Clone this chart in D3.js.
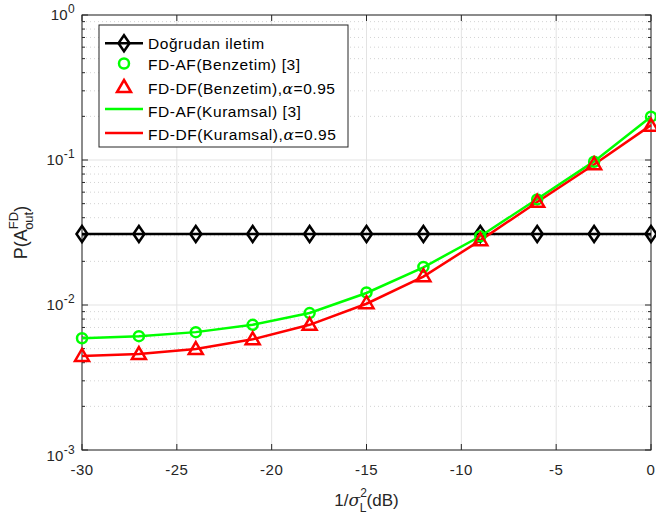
<!DOCTYPE html>
<html>
<head>
<meta charset="utf-8">
<script src="https://cdn.jsdelivr.net/npm/d3@7"></script>
<style>
  body { margin: 0; background: #fff; }
  text { font-family: Arial, "Liberation Sans", Helvetica, sans-serif; }
</style>
</head>
<body>
<svg id="chart" width="656" height="521"></svg>
<script>
// x values (dB)
var xVals = [-30, -27, -24, -21, -18, -15, -12, -9, -6, -3, 0];
// series
var direct = [0.0309, 0.0309, 0.0309, 0.0309, 0.0309, 0.0309, 0.0309, 0.0309, 0.0309, 0.0309, 0.0309];
var afSim = [0.0059, 0.0061, 0.0065, 0.0073, 0.0088, 0.0122, 0.0183, 0.0298, 0.0535, 0.0972, 0.199];
var dfSim = [0.00445, 0.00459, 0.00497, 0.0058, 0.0073, 0.0103, 0.0158, 0.0280, 0.0515, 0.0935, 0.172];
var afTheo = [0.0059, 0.0061, 0.0065, 0.0073, 0.0088, 0.0121, 0.0182, 0.0298, 0.0538, 0.0978, 0.199];
var dfTheo = [0.00445, 0.00459, 0.00497, 0.0058, 0.0073, 0.0102, 0.0157, 0.0279, 0.0513, 0.0932, 0.174];
var xTicks = [-30, -25, -20, -15, -10, -5, 0];
var yTicks = [1e-3, 1e-2, 1e-1, 1];
var yExps = ["-3", "-2", "-1", "0"];

var pLeft = 82, pRight = 651, pTop = 15, pBottom = 450;
var svg = d3.select("#chart");

var x = d3.scaleLinear().domain([-30, 0]).range([pLeft, pRight]);
var y = d3.scaleLog().domain([1e-3, 1]).range([pBottom, pTop]);

// minor grid values
var minors = [];
[1e-3, 1e-2, 1e-1].forEach(function(d) {
    for (var k = 2; k <= 9; k++) minors.push(d * k);
});

// minor horizontal dotted grid
svg.selectAll(".minor-grid")
    .data(minors)
    .enter().append("line")
    .attr("x1", pLeft).attr("x2", pRight)
    .attr("y1", function(d) { return y(d); })
    .attr("y2", function(d) { return y(d); })
    .style("stroke", "#c8c8c8")
    .style("stroke-width", 0.8)
    .style("stroke-dasharray", "1,3");

// major grid
svg.selectAll(".vgrid")
    .data(xTicks)
    .enter().append("line")
    .attr("x1", function(d) { return x(d); }).attr("x2", function(d) { return x(d); })
    .attr("y1", pTop).attr("y2", pBottom)
    .style("stroke", "#e3e3e3")
    .style("stroke-width", 1);

svg.selectAll(".hgrid")
    .data(yTicks)
    .enter().append("line")
    .attr("x1", pLeft).attr("x2", pRight)
    .attr("y1", function(d) { return y(d); })
    .attr("y2", function(d) { return y(d); })
    .style("stroke", "#e3e3e3")
    .style("stroke-width", 1);

// tick marks (inside, all sides)
var tickLen = 6, minorLen = 3;
xTicks.forEach(function(d) {
    svg.append("line").attr("x1", x(d)).attr("x2", x(d)).attr("y1", pBottom).attr("y2", pBottom - tickLen).style("stroke", "#262626");
    svg.append("line").attr("x1", x(d)).attr("x2", x(d)).attr("y1", pTop).attr("y2", pTop + tickLen).style("stroke", "#262626");
});
yTicks.forEach(function(d) {
    svg.append("line").attr("x1", pLeft).attr("x2", pLeft + tickLen).attr("y1", y(d)).attr("y2", y(d)).style("stroke", "#262626");
    svg.append("line").attr("x1", pRight).attr("x2", pRight - tickLen).attr("y1", y(d)).attr("y2", y(d)).style("stroke", "#262626");
});
minors.forEach(function(d) {
    svg.append("line").attr("x1", pLeft).attr("x2", pLeft + minorLen).attr("y1", y(d)).attr("y2", y(d)).style("stroke", "#262626");
    svg.append("line").attr("x1", pRight).attr("x2", pRight - minorLen).attr("y1", y(d)).attr("y2", y(d)).style("stroke", "#262626");
});

// axes box
svg.append("rect")
    .attr("x", pLeft).attr("y", pTop)
    .attr("width", pRight - pLeft).attr("height", pBottom - pTop)
    .style("fill", "none")
    .style("stroke", "#262626")
    .style("stroke-width", 1);

// x tick labels
svg.selectAll(".xlab")
    .data(xTicks)
    .enter().append("text")
    .attr("x", function(d) { return x(d); })
    .attr("y", pBottom + 25)
    .attr("text-anchor", "middle")
    .style("font-size", "15px")
    .style("letter-spacing", "0.5px")
    .style("fill", "#262626")
    .text(function(d) { return d; });

// y tick labels 10^k (bottom one sits a bit lower, as in the original)
yTicks.forEach(function(d, i) {
    var t = svg.append("text")
        .attr("x", pLeft - 7)
        .attr("y", y(d) + (i === 0 ? 10.5 : 5))
        .attr("text-anchor", "end")
        .style("font-size", "15px")
        .style("letter-spacing", "0.3px")
        .style("fill", "#262626");
    t.append("tspan").text("10");
    t.append("tspan").attr("dy", -7).style("font-size", "12px").text(yExps[i]);
});

// x label
var xl = svg.append("text")
    .attr("x", (pLeft + pRight) / 2)
    .attr("y", 506)
    .attr("text-anchor", "middle")
    .style("font-size", "17px")
    .style("fill", "#262626");
xl.append("tspan").text("1/");
xl.append("tspan").style("font-family", "'DejaVu Serif', 'Liberation Serif', serif").style("font-style", "italic").text("σ");
xl.append("tspan").attr("dy", -9).style("font-size", "12px").text("2");
xl.append("tspan").attr("dy", 15).attr("dx", -7).style("font-size", "12px").text("L");
xl.append("tspan").attr("dy", -6).text("(dB)");

// y label
var yl = svg.append("text")
    .attr("transform", "translate(27," + ((pTop + pBottom) / 2) + ") rotate(-90)")
    .attr("text-anchor", "middle")
    .style("font-size", "18px")
    .style("fill", "#262626");
yl.append("tspan").text("P(A");
yl.append("tspan").attr("dy", -9).style("font-size", "13px").text("FD");
yl.append("tspan").attr("dy", 15).attr("dx", -18).style("font-size", "13px").text("out");
yl.append("tspan").attr("dy", -6).text(")");

var line = d3.line()
    .x(function(d, i) { return x(xVals[i]); })
    .y(function(d) { return y(d); });

// marker shapes
function diamond(cx, cy) {
    return "M" + cx + "," + (cy - 8) + "L" + (cx + 5.5) + "," + cy + "L" + cx + "," + (cy + 8) + "L" + (cx - 5.5) + "," + cy + "Z";
}
function triangle(cx, cy) {
    return "M" + cx + "," + (cy - 7) + "L" + (cx + 7) + "," + (cy + 5) + "L" + (cx - 7) + "," + (cy + 5) + "Z";
}

// direct transmission line with diamonds
svg.append("path")
    .datum(direct)
    .attr("d", line)
    .style("fill", "none")
    .style("stroke", "#000")
    .style("stroke-width", 2.5);
svg.selectAll(".dia")
    .data(direct)
    .enter().append("path")
    .attr("d", function(d, i) { return diamond(x(xVals[i]), y(d)); })
    .style("fill", "none")
    .style("stroke", "#000")
    .style("stroke-width", 2.5);

// theoretical curves
svg.append("path")
    .datum(afTheo)
    .attr("d", line)
    .style("fill", "none")
    .style("stroke", "#00ff00")
    .style("stroke-width", 2.5);
svg.append("path")
    .datum(dfTheo)
    .attr("d", line)
    .style("fill", "none")
    .style("stroke", "#ff0000")
    .style("stroke-width", 2.5);

// simulation markers
svg.selectAll(".circ")
    .data(afSim)
    .enter().append("circle")
    .attr("cx", function(d, i) { return x(xVals[i]); })
    .attr("cy", function(d) { return y(d); })
    .attr("r", 5)
    .style("fill", "none")
    .style("stroke", "#00ff00")
    .style("stroke-width", 2.5);
svg.selectAll(".tri")
    .data(dfSim)
    .enter().append("path")
    .attr("d", function(d, i) { return triangle(x(xVals[i]), y(d)); })
    .style("fill", "none")
    .style("stroke", "#ff0000")
    .style("stroke-width", 2.5);

// legend
var legend = svg.append("g").attr("transform", "translate(99,25)");
legend.append("rect")
    .attr("width", 249).attr("height", 122)
    .style("fill", "#fff")
    .style("stroke", "#262626")
    .style("stroke-width", 1);

var legendNames = ["Doğrudan iletim", "FD-AF(Benzetim) [3]", "FD-DF(Benzetim),", "FD-AF(Kuramsal) [3]", "FD-DF(Kuramsal),"];
var legendAlpha = [false, false, true, false, true];
var rowBase = [23.5, 45, 69, 91.5, 115];

legendNames.forEach(function(name, i) {
    var t = legend.append("text")
        .attr("x", 49)
        .attr("y", rowBase[i])
        .style("font-size", "15.5px")
        .style("letter-spacing", "0.55px")
        .style("fill", "#000");
    t.append("tspan").text(name);
    if (legendAlpha[i]) {
        t.append("tspan").style("font-family", "'DejaVu Serif', 'Liberation Serif', serif").style("font-style", "italic").text("α");
        t.append("tspan").text("=0.95");
    }
});

// legend samples
legend.append("line").attr("x1", 6).attr("x2", 44).attr("y1", 18.3).attr("y2", 18.3)
    .style("stroke", "#000").style("stroke-width", 2.5);
legend.append("path").attr("d", diamond(25, 18.3))
    .style("fill", "none").style("stroke", "#000").style("stroke-width", 2.5);
legend.append("circle").attr("cx", 25).attr("cy", 38.5).attr("r", 5)
    .style("fill", "none").style("stroke", "#00ff00").style("stroke-width", 2.5);
legend.append("path").attr("d", triangle(25, 62))
    .style("fill", "none").style("stroke", "#ff0000").style("stroke-width", 2.5);
legend.append("line").attr("x1", 6).attr("x2", 44).attr("y1", 84).attr("y2", 84)
    .style("stroke", "#00ff00").style("stroke-width", 2.5);
legend.append("line").attr("x1", 6).attr("x2", 44).attr("y1", 108).attr("y2", 108)
    .style("stroke", "#ff0000").style("stroke-width", 2.5);
</script>
</body>
</html>
